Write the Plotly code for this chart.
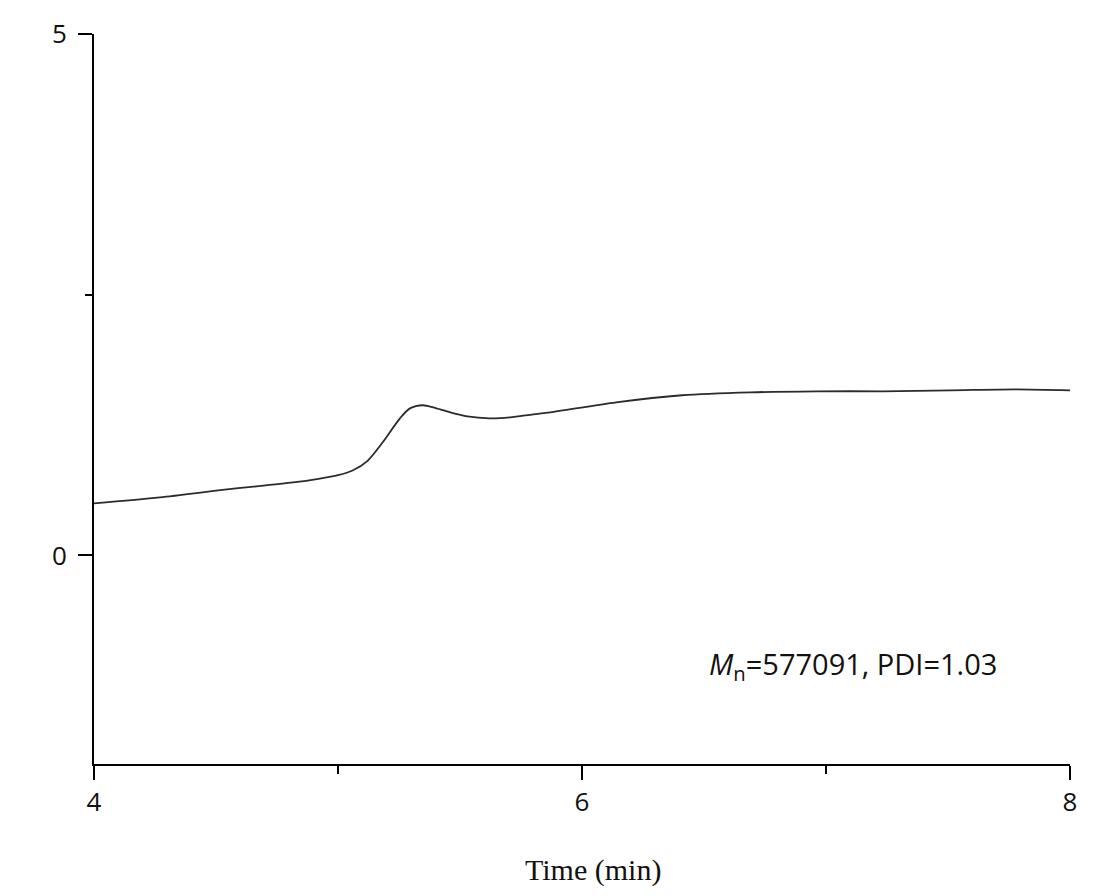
import plotly.graph_objects as go

# GPC trace: elution time (min) vs detector response
time_min = [4.00, 4.27, 4.545, 4.816, 4.92, 5.00, 5.06, 5.12, 5.18, 5.254,
            5.295, 5.348, 5.39, 5.46, 5.53, 5.62, 5.705, 5.80, 5.87, 6.14,
            6.41, 6.69, 6.96, 7.23, 7.51, 7.78, 8.00]
signal = [0.499, 0.557, 0.633, 0.700, 0.735, 0.770, 0.815, 0.905, 1.075, 1.315,
          1.410, 1.440, 1.420, 1.372, 1.334, 1.315, 1.324, 1.353, 1.372, 1.468,
          1.536, 1.564, 1.574, 1.574, 1.583, 1.593, 1.583]

x_major = [4, 6, 8]
x_minor = [5, 7]
y_major = [0, 5]
y_minor = [2.5]

fig = go.Figure()
fig.add_trace(go.Scatter(
    x=time_min, y=signal, mode="lines",
    line=dict(color="#2b2b2b", width=1.8, shape="spline", smoothing=0.8),
    showlegend=False, hoverinfo="skip",
))

axis_font = dict(family="Open Sans", size=26, color="#111111")

fig.update_xaxes(
    range=[4, 8], showgrid=False, zeroline=False,
    showline=True, linecolor="black", linewidth=2,
    ticks="outside", ticklen=14, tickwidth=2, tickcolor="black",
    tickmode="array", tickvals=x_major, ticktext=[str(v) for v in x_major],
    tickfont=axis_font, ticklabelstandoff=0,
    minor=dict(tickmode="array", tickvals=x_minor, ticks="outside",
               ticklen=8, tickwidth=2, tickcolor="black"),
)
fig.update_yaxes(
    range=[-2, 5], showgrid=False, zeroline=False,
    showline=True, linecolor="black", linewidth=2,
    ticks="outside", ticklen=14, tickwidth=2, tickcolor="black",
    tickmode="array", tickvals=y_major, ticktext=[str(v) for v in y_major],
    tickfont=axis_font, ticklabelstandoff=6,
    minor=dict(tickmode="array", tickvals=y_minor, ticks="outside",
               ticklen=7, tickwidth=2, tickcolor="black"),
)

fig.add_annotation(
    x=6.512, y=-1.06, xref="x", yref="y", xanchor="left", yanchor="middle",
    text="<i>M</i><sub>n</sub>=577091, PDI=1.03", showarrow=False,
    font=dict(family="Open Sans", size=29, color="#111111"),
)
fig.add_annotation(
    x=0.511, y=-0.145, xref="paper", yref="paper", xanchor="center", yanchor="middle",
    text="Time (min)", showarrow=False,
    font=dict(family="Liberation Serif", size=30, color="#111111"),
)

fig.update_layout(
    width=1105, height=896,
    margin=dict(l=94, r=35, t=34, b=132),
    paper_bgcolor="white", plot_bgcolor="white",
)

fig.write_html("out.html")
